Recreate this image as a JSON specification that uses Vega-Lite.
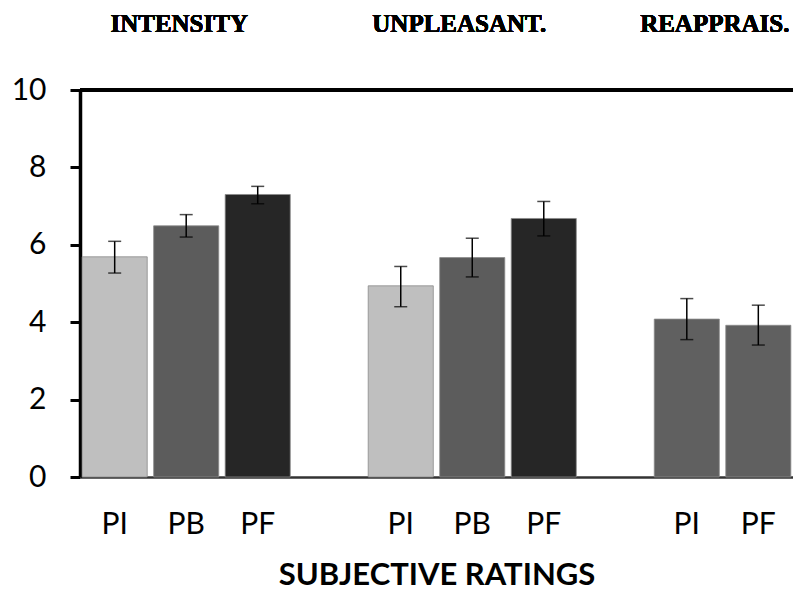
{
  "$schema": "https://vega.github.io/schema/vega-lite/v6.json",
  "width": 713,
  "height": 387,
  "autosize": {"type": "none"},
  "padding": {"left": 80, "top": 90, "right": 0, "bottom": 114},
  "background": "white",
  "config": {"view": {"stroke": null}},
  "data": {
    "values": [
      {"group": "INTENSITY", "cond": "PI", "key": "INTENSITY|PI", "mean": 5.69, "lo": 5.27, "hi": 6.09},
      {"group": "INTENSITY", "cond": "PB", "key": "INTENSITY|PB", "mean": 6.49, "lo": 6.2, "hi": 6.78},
      {"group": "INTENSITY", "cond": "PF", "key": "INTENSITY|PF", "mean": 7.3, "lo": 7.06, "hi": 7.51},
      {"group": "UNPLEASANT.", "cond": "PI", "key": "UNPLEASANT.|PI", "mean": 4.94, "lo": 4.4, "hi": 5.44},
      {"group": "UNPLEASANT.", "cond": "PB", "key": "UNPLEASANT.|PB", "mean": 5.67, "lo": 5.17, "hi": 6.17},
      {"group": "UNPLEASANT.", "cond": "PF", "key": "UNPLEASANT.|PF", "mean": 6.68, "lo": 6.23, "hi": 7.12},
      {"group": "REAPPRAIS.", "cond": "PI", "key": "REAPPRAIS.|PI", "mean": 4.08, "lo": 3.55, "hi": 4.61},
      {"group": "REAPPRAIS.", "cond": "PF", "key": "REAPPRAIS.|PF", "mean": 3.92, "lo": 3.41, "hi": 4.44}
    ]
  },
  "layer": [
    {
      "mark": {"type": "bar", "stroke": "#8a8a8a", "strokeWidth": 0.8},
      "encoding": {
        "x": {
          "field": "key",
          "type": "nominal",
          "sort": null,
          "scale": {
            "domain": ["INTENSITY|PI", "INTENSITY|PB", "INTENSITY|PF", "gap1", "UNPLEASANT.|PI", "UNPLEASANT.|PB", "UNPLEASANT.|PF", "gap2", "REAPPRAIS.|PI", "REAPPRAIS.|PF"],
            "paddingInner": 0.09,
            "paddingOuter": 0.03
          },
          "axis": {
            "title": "SUBJECTIVE RATINGS",
            "titleFont": "Lato",
            "titleFontSize": 31,
            "titleFontWeight": "bold",
            "titleColor": "black",
            "titlePadding": 21,
            "labelExpr": "indexof(datum.value,'|')>=0 ? split(datum.value,'|')[1] : ''",
            "labelFont": "Lato",
            "labelFontSize": 30,
            "labelColor": "black",
            "labelAngle": 0,
            "labelPadding": 32,
            "ticks": false,
            "domainColor": "#333333",
            "domainWidth": 2.5
          }
        },
        "y": {
          "field": "mean",
          "type": "quantitative",
          "scale": {"domain": [0, 10], "nice": false},
          "axis": {
            "title": null,
            "values": [0, 2, 4, 6, 8, 10],
            "grid": false,
            "labelFont": "Lato",
            "labelFontSize": 30,
            "labelColor": "black",
            "labelPadding": 24,
            "tickSize": 10,
            "tickWidth": 3,
            "tickColor": "black",
            "domainColor": "black",
            "domainWidth": 3.5
          }
        },
        "color": {
          "condition": {"test": "datum.group === 'REAPPRAIS.'", "value": "#606060"},
          "field": "cond",
          "type": "nominal",
          "scale": {"domain": ["PI", "PB", "PF"], "range": ["#bfbfbf", "#5c5c5c", "#262626"]},
          "legend": null
        }
      }
    },
    {
      "mark": {"type": "rule", "color": "black", "strokeWidth": 1.5},
      "encoding": {
        "x": {"field": "key", "type": "nominal", "sort": null},
        "y": {"field": "lo", "type": "quantitative"},
        "y2": {"field": "hi"}
      }
    },
    {
      "mark": {"type": "tick", "color": "black", "thickness": 1.5, "size": 13, "orient": "horizontal"},
      "encoding": {
        "x": {"field": "key", "type": "nominal", "sort": null},
        "y": {"field": "lo", "type": "quantitative"}
      }
    },
    {
      "mark": {"type": "tick", "color": "black", "thickness": 1.5, "size": 13, "orient": "horizontal"},
      "encoding": {
        "x": {"field": "key", "type": "nominal", "sort": null},
        "y": {"field": "hi", "type": "quantitative"}
      }
    },
    {
      "mark": {"type": "rule", "color": "black", "strokeWidth": 3.5},
      "encoding": {"y": {"datum": 10}}
    },
    {
      "mark": {"type": "text", "font": "Liberation Serif", "fontSize": 25, "fontWeight": "bold", "color": "black", "baseline": "alphabetic", "align": "center", "dx": -7},
      "encoding": {"x": {"datum": "INTENSITY|PB"}, "y": {"datum": 11.5}, "text": {"value": "INTENSITY"}}
    },
    {
      "mark": {"type": "text", "font": "Liberation Serif", "fontSize": 25, "fontWeight": "bold", "color": "black", "baseline": "alphabetic", "align": "center", "dx": -13},
      "encoding": {"x": {"datum": "UNPLEASANT.|PB"}, "y": {"datum": 11.5}, "text": {"value": "UNPLEASANT."}}
    },
    {
      "mark": {"type": "text", "font": "Liberation Serif", "fontSize": 25, "fontWeight": "bold", "color": "black", "baseline": "alphabetic", "align": "center", "dx": 28},
      "encoding": {"x": {"datum": "REAPPRAIS.|PI"}, "y": {"datum": 11.5}, "text": {"value": "REAPPRAIS."}}
    }
  ]
}
